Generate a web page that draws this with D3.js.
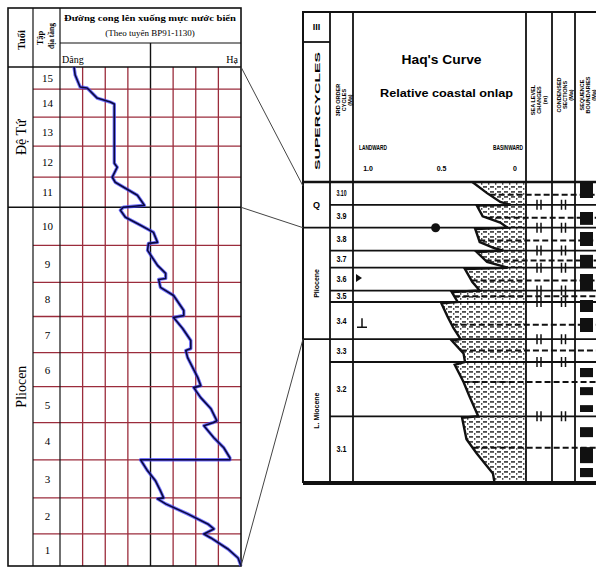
<!DOCTYPE html>
<html>
<head>
<meta charset="utf-8">
<script src="https://cdn.jsdelivr.net/npm/d3@7"></script>
<style>
  body { margin: 0; background: #fff; }
  svg { display: block; }
</style>
</head>
<body>
<div id="chart"></div>
<script>
// ---- left panel: sea level curve along line BP91-1130 ----
const unitLabels = [15, 14, 13, 12, 11, 10, 9, 8, 7, 6, 5, 4, 3, 2, 1];
const unitThickness = [22, 28, 29, 31, 30, 38, 37, 34, 36, 34, 36, 37, 38, 36, 32];
const ageNames = ["Đệ Tứ", "Pliocen"];
const ageUnitCounts = [5, 10];
// [position in grid columns (0 = Dâng, 8 = Hạ), depth]
const seaLevelCurve = [
  [0.62, 0], [0.67, 8], [0.89, 20], [1.2, 21], [1.64, 31], [2.22, 35], [2.4, 37],
  [2.4, 96], [2.53, 100], [2.31, 110], [2.44, 115], [2.89, 121], [3.42, 128], [3.73, 138],
  [2.8, 140], [2.67, 143], [2.89, 150], [3.56, 158], [4.13, 165], [4.31, 175],
  [3.91, 176], [3.87, 183], [4.31, 198], [4.67, 206], [4.67, 211],
  [4.36, 212], [4.44, 220], [5.02, 228], [5.47, 243], [5.47, 248],
  [5.02, 250], [5.42, 261], [5.78, 273], [5.78, 281],
  [5.56, 283], [5.64, 290], [6.09, 310], [6.22, 318],
  [5.91, 320], [6.22, 330], [6.67, 341], [6.93, 353],
  [6.76, 355], [6.36, 358], [6.8, 370], [7.24, 380], [7.51, 390], [7.51, 392],
  [3.56, 392], [3.87, 403], [4.22, 413], [4.44, 423], [4.58, 430],
  [4.31, 431], [4.67, 436], [5.64, 446], [6.53, 456], [6.8, 461],
  [6.36, 466], [6.67, 470], [7.42, 481], [7.87, 490], [8, 498]
];

// ---- right panel: Haq's curve ----
const cycleBounds = [0, 0.8, 1.6, 2.4, 3.0, 3.8, 4.2, 5.5, 6.3, 8.2, 10.5];
const cycleLabels = ["3.10", "3.9", "3.8", "3.7", "3.6", "3.5", "3.4", "3.3", "3.2", "3.1"];
const superNames = ["Q", "Pliocene", "L. Miocene"];
const superBounds = [0, 1.6, 5.5, 10.5];
// [age Ma, relative coastal onlap]
const haqCurve = [
  [0, 0.29], [0.39, 0.19], [0.7, 0.10], [0.8, 0.03],
  [0.82, 0.26], [1.2, 0.22], [1.42, 0.10], [1.6, 0.05],
  [1.65, 0.27], [2.1, 0.24], [2.3, 0.15], [2.4, 0.08],
  [2.45, 0.26], [2.8, 0.19], [3.0, 0.05],
  [3.05, 0.34], [3.5, 0.29], [3.8, 0.24],
  [3.85, 0.43], [4.2, 0.39],
  [4.25, 0.50], [4.7, 0.46], [5.1, 0.42], [5.5, 0.37],
  [5.55, 0.43], [6.0, 0.35], [6.3, 0.34],
  [6.4, 0.41], [7.0, 0.35], [7.5, 0.31], [8.2, 0.25],
  [8.25, 0.36], [9.0, 0.33], [9.5, 0.26], [10.2, 0.15], [10.5, 0.14]
];
const mfsAges = [0.45, 1.25, 2.05, 2.75, 3.45, 4.0, 5.0, 5.9, 7.0, 9.3];
const onlapTicks = [1, 0.5, 0];
const lithoBlocks = [
  [0.03, 0.56], [1.05, 1.5], [1.75, 2.24], [2.55, 3.0], [3.22, 3.78], [4.13, 4.55],
  [4.76, 5.25], [6.51, 6.83], [7.18, 7.46], [7.81, 8.05], [8.58, 8.93], [9.28, 9.84], [10.01, 10.33]
];
// tie lines: [depth on left panel, age on Haq chart]
const tieLines = [[0, 0], [140, 1.6], [498, 5.5]];

const W = 596, H = 570;
const L = { x0: 8, c1: 33, c2: 60, x1: 241, top: 8, sep: 43, head: 67, bottom: 566 };
const R = { x0: 303, c1: 330, c2: 353, c3: 526, c4: 552, c5: 575, x1: 604, top: 12, head: 182, bottom: 482 };

const svg = d3.select("#chart").append("svg")
  .attr("width", W).attr("height", H)
  .attr("viewBox", [0, 0, W, H]);

const depthY = d3.scaleLinear().domain([0, d3.sum(unitThickness)]).range([L.head, L.bottom]);
const gridX = d3.scaleLinear().domain([0, 8]).range([L.c2, L.x1]);
const ageY = d3.scaleLinear().domain([0, 10.5]).range([R.head, R.bottom]);
const onlapX = d3.scaleLinear().domain([1, 0]).range([368, 515]);

drawLeft(svg.append("g"));
drawRight(svg.append("g"));

// tie lines between the two panels
svg.append("g")
  .selectAll("line")
  .data(tieLines)
  .join("line")
  .attr("x1", L.x1).attr("y1", (d) => depthY(d[0]))
  .attr("x2", R.x0).attr("y2", (d) => ageY(d[1]) + (d[1] === 0 ? 4 : 0))
  .attr("stroke", "#444").attr("stroke-width", 1);

function rotText(g, x, y, txt, size, weight, family) {
  return g.append("text")
    .attr("transform", `translate(${x},${y}) rotate(-90)`)
    .attr("text-anchor", "middle")
    .attr("dominant-baseline", "central")
    .attr("font-family", family || "'Liberation Serif', serif")
    .attr("font-size", size)
    .attr("font-weight", weight || "normal")
    .text(txt);
}

function drawLeft(g) {
  const edges = Array.from(d3.cumsum([0, ...unitThickness]));
  const red = "#9b2c3c";

  // vertical grid
  g.selectAll("line.v")
    .data(d3.range(1, 8))
    .join("line")
    .attr("x1", (d) => gridX(d)).attr("x2", (d) => gridX(d))
    .attr("y1", (d) => (d === 4 ? L.sep : L.head)).attr("y2", L.bottom)
    .attr("stroke", (d) => (d === 4 ? "#111" : red))
    .attr("stroke-width", (d) => (d === 4 ? 1.4 : 1.3));

  // unit boundaries
  const ageEdge = ageUnitCounts[0];
  g.selectAll("line.h")
    .data(edges.slice(1, -1))
    .join("line")
    .attr("x1", (d, i) => (i + 1 === ageEdge ? L.x0 : L.c1)).attr("x2", L.x1)
    .attr("y1", (d) => depthY(d)).attr("y2", (d) => depthY(d))
    .attr("stroke", (d, i) => (i + 1 === ageEdge ? "#111" : red))
    .attr("stroke-width", (d, i) => (i + 1 === ageEdge ? 1.6 : 1.3));

  // frame
  g.append("rect")
    .attr("x", L.x0).attr("y", L.top)
    .attr("width", L.x1 - L.x0).attr("height", L.bottom - L.top)
    .attr("fill", "none").attr("stroke", "#111").attr("stroke-width", 1.6);
  [L.c1, L.c2].forEach((xx) =>
    g.append("line").attr("x1", xx).attr("x2", xx).attr("y1", L.top).attr("y2", L.bottom)
      .attr("stroke", "#111").attr("stroke-width", 1.2));
  g.append("line").attr("x1", L.x0).attr("x2", L.x1).attr("y1", L.head).attr("y2", L.head)
    .attr("stroke", "#111").attr("stroke-width", 1.6);
  g.append("line").attr("x1", L.c2).attr("x2", L.x1).attr("y1", L.sep).attr("y2", L.sep)
    .attr("stroke", "#111").attr("stroke-width", 1.2);

  // header texts
  rotText(g, 21, 40, "Tuổi", 10.5, "bold");
  rotText(g, 40, 38, "Tập", 8.5, "bold");
  rotText(g, 51, 36, "địa tầng", 7.5, "bold");

  const title = g.append("text")
    .attr("font-family", "'Liberation Serif', serif").attr("font-weight", "bold")
    .attr("text-anchor", "middle");
  title.append("tspan").attr("x", 150).attr("y", 21).attr("font-size", 8.5)
    .attr("textLength", 172).attr("lengthAdjust", "spacingAndGlyphs")
    .text("Đường cong lên xuống mực nước biển");
  title.append("tspan").attr("x", 150).attr("y", 36).attr("font-size", 9)
    .attr("font-weight", "normal")
    .text("(Theo tuyến BP91-1130)");

  g.append("text").attr("x", L.c2 + 2).attr("y", 63)
    .attr("font-family", "'Liberation Serif', serif").attr("font-size", 10)
    .text("Dâng");
  g.append("text").attr("x", L.x1 - 3).attr("y", 63).attr("text-anchor", "end")
    .attr("font-family", "'Liberation Serif', serif").attr("font-size", 10)
    .text("Hạ");

  // unit numbers
  g.selectAll("text.unit")
    .data(unitLabels)
    .join("text")
    .attr("x", (L.c1 + L.c2) / 2 + 1)
    .attr("y", (d, i) => depthY((edges[i] + edges[i + 1]) / 2))
    .attr("text-anchor", "middle").attr("dominant-baseline", "central")
    .attr("font-family", "'Liberation Serif', serif").attr("font-size", 11)
    .text((d) => d);

  // age names
  let start = 0;
  ageNames.forEach((name, i) => {
    const end = start + ageUnitCounts[i];
    rotText(g, (L.x0 + L.c1) / 2 + 1, depthY((edges[start] + edges[end]) / 2), name, 14);
    start = end;
  });

  // sea level curve
  const line = d3.line().x((d) => gridX(d[0])).y((d) => depthY(d[1]));
  g.append("path").datum(seaLevelCurve).attr("d", line)
    .attr("fill", "none").attr("stroke", "#3b3bff").attr("stroke-width", 3.4)
    .attr("stroke-opacity", 0.7).attr("stroke-linejoin", "round");
  g.append("path").datum(seaLevelCurve).attr("d", line)
    .attr("fill", "none").attr("stroke", "#0a0a40").attr("stroke-width", 1.6)
    .attr("stroke-linejoin", "round");
}

function drawRight(g) {
  const sans = "'Liberation Sans', Arial, sans-serif";

  const defs = g.append("defs");
  const pat = defs.append("pattern").attr("id", "onlapFill")
    .attr("patternUnits", "userSpaceOnUse").attr("width", 7).attr("height", 5);
  pat.append("rect").attr("x", 0).attr("y", 1).attr("width", 4).attr("height", 1.8).attr("fill", "#111");
  pat.append("rect").attr("x", 5).attr("y", 3).attr("width", 1.4).attr("height", 1.8).attr("fill", "#111");

  // fill to the right of the onlap curve
  const area = d3.area().y((d) => ageY(d[0])).x0((d) => onlapX(d[1])).x1(R.c3);
  g.append("path").datum(haqCurve).attr("d", area)
    .attr("fill", "url(#onlapFill)").attr("opacity", 0.75);

  // maximum flooding / condensed section lines
  const curveAt = (a) => {
    const i = d3.bisector((d) => d[0]).left(haqCurve, a);
    const p0 = haqCurve[Math.max(0, i - 1)], p1 = haqCurve[Math.min(haqCurve.length - 1, i)];
    const t = p1[0] === p0[0] ? 0 : (a - p0[0]) / (p1[0] - p0[0]);
    return p0[1] + t * (p1[1] - p0[1]);
  };
  g.selectAll("line.mfs")
    .data(mfsAges)
    .join("line")
    .attr("x1", (d) => onlapX(curveAt(d))).attr("x2", R.x1)
    .attr("y1", (d) => ageY(d)).attr("y2", (d) => ageY(d))
    .attr("stroke", "#111").attr("stroke-width", 2)
    .attr("stroke-dasharray", "6,3");

  // cycle boundaries
  const inner = cycleBounds.slice(1, -1);
  g.selectAll("line.sb")
    .data(inner)
    .join("line")
    .attr("x1", (d) => (superBounds.includes(d) ? R.x0 : R.c1)).attr("x2", R.x1)
    .attr("y1", (d) => ageY(d)).attr("y2", (d) => ageY(d))
    .attr("stroke", "#111").attr("stroke-width", 1.8);

  // sequence boundary ticks
  [(R.c3 + R.c4) / 2, (R.c4 + R.c5) / 2].forEach((cx) => {
    g.selectAll(null)
      .data(inner)
      .join("path")
      .attr("d", (d) => {
        const yy = ageY(d);
        return `M${cx - 2},${yy - 5}V${yy + 5}M${cx + 2},${yy - 5}V${yy + 5}`;
      })
      .attr("stroke", "#111").attr("stroke-width", 1.5);
  });

  // lithology blocks
  g.selectAll("rect.litho")
    .data(lithoBlocks)
    .join("rect")
    .attr("x", R.c5 + 5).attr("width", 13)
    .attr("y", (d) => ageY(d[0])).attr("height", (d) => ageY(d[1]) - ageY(d[0]))
    .attr("fill", "#111");

  // onlap curve
  g.append("path").datum(haqCurve)
    .attr("d", d3.line().x((d) => onlapX(d[1])).y((d) => ageY(d[0])))
    .attr("fill", "none").attr("stroke", "#111").attr("stroke-width", 2.4);

  // markers
  g.append("circle").attr("cx", onlapX(0.54)).attr("cy", ageY(1.6)).attr("r", 4.5).attr("fill", "#111");
  g.append("path").attr("d", `M${R.c2 + 3},${ageY(3.36) - 4}l6,4l-6,4z`).attr("fill", "#111");
  g.append("path").attr("d", `M${R.c2 + 4},${ageY(4.94) + 4}h10M${R.c2 + 9},${ageY(4.94) + 4}v-9`)
    .attr("stroke", "#111").attr("stroke-width", 1.5);

  // frame and columns
  g.append("rect")
    .attr("x", R.x0).attr("y", R.top)
    .attr("width", R.x1 - R.x0).attr("height", R.bottom - R.top)
    .attr("fill", "none").attr("stroke", "#111").attr("stroke-width", 2);
  g.selectAll("line.col")
    .data([R.c1, R.c2, R.c3, R.c4, R.c5])
    .join("line")
    .attr("x1", (d) => d).attr("x2", (d) => d)
    .attr("y1", R.top).attr("y2", R.bottom)
    .attr("stroke", "#111").attr("stroke-width", 1.8);
  g.append("line").attr("x1", R.x0).attr("x2", R.x1).attr("y1", R.head).attr("y2", R.head)
    .attr("stroke", "#111").attr("stroke-width", 2.6);
  g.append("line").attr("x1", R.x0).attr("x2", R.x1).attr("y1", R.bottom + 2).attr("y2", R.bottom + 2)
    .attr("stroke", "#111").attr("stroke-width", 2);
  g.append("line").attr("x1", R.x0).attr("x2", R.c1).attr("y1", 42).attr("y2", 42)
    .attr("stroke", "#111").attr("stroke-width", 1.8);

  // header
  g.append("text").attr("x", (R.x0 + R.c1) / 2).attr("y", 30)
    .attr("text-anchor", "middle").attr("font-family", sans).attr("font-weight", "bold")
    .attr("font-size", 9).text("III");
  rotText(g, (R.x0 + R.c1) / 2 + 1, 111, "SUPERCYCLES", 7.5, "bold", sans)
    .attr("textLength", 118).attr("lengthAdjust", "spacingAndGlyphs");
  [["3RD ORDER", 338], ["CYCLES", 344], ["(Ma)", 350]].forEach(([t, xx]) =>
    rotText(g, xx, 100, t, 5.5, "bold", sans));
  [["SEA LEVEL", 533], ["CHANGES", 539], ["(m)", 545]].forEach(([t, xx]) =>
    rotText(g, xx, 100, t, 5.5, "bold", sans));
  [["CONDENSED", 559], ["SECTIONS", 565], ["(Ma)", 571]].forEach(([t, xx]) =>
    rotText(g, xx, 95, t, 5.5, "bold", sans));
  [["SEQUENCE", 582], ["BOUNDARIES", 588], ["(Ma)", 594]].forEach(([t, xx]) =>
    rotText(g, xx, 95, t, 5.5, "bold", sans));

  const cx = (R.c2 + R.c3) / 2;
  g.append("text").attr("x", cx + 2).attr("y", 64).attr("text-anchor", "middle")
    .attr("font-family", sans).attr("font-weight", "bold").attr("font-size", 12.5)
    .attr("textLength", 80).attr("lengthAdjust", "spacingAndGlyphs")
    .text("Haq's Curve");
  g.append("text").attr("x", cx + 7).attr("y", 97).attr("text-anchor", "middle")
    .attr("font-family", sans).attr("font-weight", "bold").attr("font-size", 11.5)
    .attr("textLength", 133).attr("lengthAdjust", "spacingAndGlyphs")
    .text("Relative coastal onlap");
  g.append("text").attr("x", onlapX(1) + 5).attr("y", 150).attr("text-anchor", "middle")
    .attr("font-family", sans).attr("font-weight", "bold").attr("font-size", 6.5)
    .attr("textLength", 28).attr("lengthAdjust", "spacingAndGlyphs").text("LANDWARD");
  g.append("text").attr("x", onlapX(0) - 7).attr("y", 150).attr("text-anchor", "middle")
    .attr("font-family", sans).attr("font-weight", "bold").attr("font-size", 6.5)
    .attr("textLength", 30).attr("lengthAdjust", "spacingAndGlyphs").text("BASINWARD");
  g.selectAll("text.tick")
    .data(onlapTicks)
    .join("text")
    .attr("x", (d) => onlapX(d)).attr("y", 171).attr("text-anchor", "middle")
    .attr("font-family", sans).attr("font-weight", "bold").attr("font-size", 7)
    .text((d) => (d === 0 ? "0" : d3.format(".1f")(d)));

  // cycle labels
  g.selectAll("text.cycle")
    .data(cycleLabels)
    .join("text")
    .attr("x", (R.c1 + R.c2) / 2).attr("y", (d, i) => ageY((cycleBounds[i] + cycleBounds[i + 1]) / 2))
    .attr("text-anchor", "middle").attr("dominant-baseline", "central")
    .attr("font-family", sans).attr("font-weight", "bold").attr("font-size", 9)
    .attr("textLength", 10).attr("lengthAdjust", "spacingAndGlyphs")
    .text((d) => d);

  // supercycle labels
  superNames.forEach((name, i) => {
    const yy = ageY((superBounds[i] + superBounds[i + 1]) / 2);
    if (i === 0) {
      g.append("text").attr("x", (R.x0 + R.c1) / 2).attr("y", yy)
        .attr("text-anchor", "middle").attr("dominant-baseline", "central")
        .attr("font-family", sans).attr("font-weight", "bold").attr("font-size", 9).text(name);
    } else {
      rotText(g, (R.x0 + R.c1) / 2, yy, name, 7, "bold", sans);
    }
  });
}
</script>
</body>
</html>
